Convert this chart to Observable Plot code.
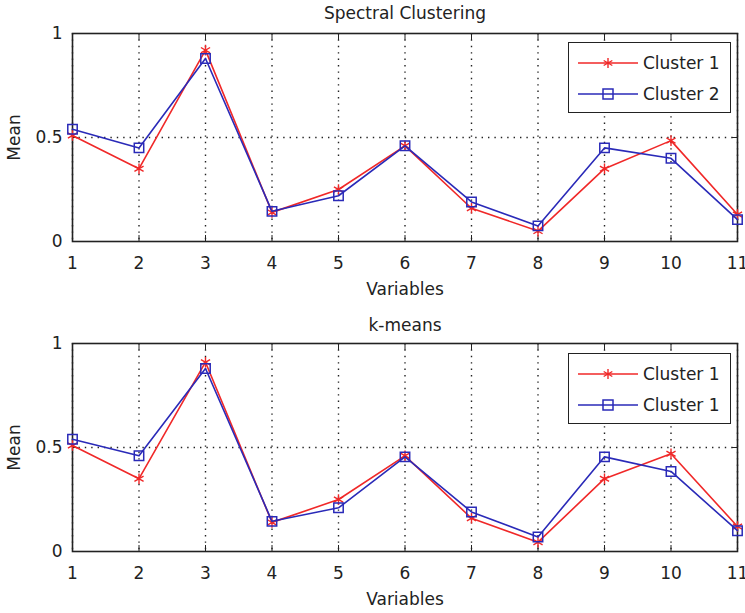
<!DOCTYPE html>
<html>
<head>
<meta charset="utf-8">
<script src="https://cdn.jsdelivr.net/npm/d3@7"></script>
<script src="https://cdn.jsdelivr.net/npm/@observablehq/plot@0.6"></script>
<style>
  html, body { margin: 0; padding: 0; background: #fff; }
  body { width: 745px; height: 613px; overflow: hidden; font-family: "DejaVu Sans", sans-serif; }
  .panel { position: relative; }
  .legend { position: absolute; background: #fff; border: 1.5px solid #222; box-sizing: border-box; }
  .legend svg { display: block; }
</style>
</head>
<body>
<div id="chart"></div>
<script>
// ---- Data ----
const variables = [1, 2, 3, 4, 5, 6, 7, 8, 9, 10, 11];
const xTicks = [1, 2, 3, 4, 5, 6, 7, 8, 9, 10, 11];
const yTicks = [0, 0.5, 1];
const yTickLabels = ["0", "0.5", "1"];

const spectralTitle = "Spectral Clustering";
const spectralNames = ["Cluster 1", "Cluster 2"];
const spectralC1 = [0.51, 0.35, 0.92, 0.14, 0.25, 0.46, 0.16, 0.05, 0.35, 0.485, 0.13];
const spectralC2 = [0.54, 0.45, 0.88, 0.145, 0.22, 0.46, 0.19, 0.075, 0.45, 0.40, 0.105];

const kmeansTitle = "k-means";
const kmeansNames = ["Cluster 1", "Cluster 1"];
const kmeansC1 = [0.51, 0.35, 0.91, 0.14, 0.25, 0.46, 0.16, 0.045, 0.35, 0.47, 0.12];
const kmeansC2 = [0.54, 0.46, 0.88, 0.145, 0.21, 0.455, 0.19, 0.07, 0.455, 0.385, 0.10];

const xLabel = "Variables";
const yLabel = "Mean";

const RED = "#f02828";
const BLUE = "#2a2ab8";
const FONT = "DejaVu Sans, sans-serif";

function makePanel(title, c1, c2, names, cfg) {
  const d1 = variables.map((v, i) => ({v, y: c1[i]}));
  const d2 = variables.map((v, i) => ({v, y: c2[i]}));
  const plot = Plot.plot({
    width: 745,
    height: cfg.height,
    marginLeft: 72,
    marginRight: 8,
    marginTop: cfg.marginTop,
    marginBottom: cfg.marginBottom,
    style: {fontFamily: FONT, fontSize: "17px", color: "#222", background: "#fff"},
    x: {domain: [1, 11]},
    y: {domain: [0, 1]},
    marks: [
      Plot.gridX(xTicks, {stroke: "#222", strokeOpacity: 1, strokeWidth: 1.4, strokeDasharray: "1.4,5"}),
      Plot.gridY([0.5], {stroke: "#222", strokeOpacity: 1, strokeWidth: 1.4, strokeDasharray: "1.4,5"}),
      Plot.axisX({ticks: xTicks, anchor: "bottom", tickSize: -6, text: null, label: null, stroke: "#222"}),
      Plot.axisX({ticks: xTicks, anchor: "top", tickSize: -6, text: null, label: null, stroke: "#222"}),
      Plot.axisY({ticks: yTicks, anchor: "left", tickSize: -6, text: null, label: null, stroke: "#222"}),
      Plot.axisY({ticks: yTicks, anchor: "right", tickSize: -6, text: null, label: null, stroke: "#222"}),
      Plot.axisX({ticks: xTicks, anchor: "bottom", tickSize: 0, tickPadding: 15, tickFormat: d => String(d),
        label: xLabel, labelAnchor: "center", labelArrow: "none", labelOffset: 53, fontSize: 17}),
      Plot.axisY({ticks: yTicks, anchor: "left", tickSize: 0, tickPadding: 10, tickFormat: (d, i) => yTickLabels[i],
        label: yLabel, labelAnchor: "center", labelArrow: "none", labelOffset: 65, fontSize: 17}),
      Plot.frame({stroke: "#222", strokeWidth: 1.6}),
      Plot.line(d1, {x: "v", y: "y", stroke: RED, strokeWidth: 1.6}),
      Plot.dot(d1, {x: "v", y: "y", symbol: "asterisk", stroke: RED, strokeWidth: 1.4, r: 5}),
      Plot.line(d2, {x: "v", y: "y", stroke: BLUE, strokeWidth: 1.6}),
      Plot.dot(d2, {x: "v", y: "y", symbol: "square2", stroke: BLUE, fill: "none", strokeWidth: 1.5, r: 6}),
      Plot.text([title], {frameAnchor: "top", dy: cfg.titleDy, text: d => d, fontSize: 17, fill: "#222", lineAnchor: "bottom"})
    ]
  });

  const panel = document.createElement("div");
  panel.className = "panel";
  panel.appendChild(plot);

  // legend box
  const lg = document.createElement("div");
  lg.className = "legend";
  lg.style.left = "568px";
  lg.style.top = cfg.legendTop + "px";
  lg.style.width = "163px";
  lg.style.height = "71px";
  const svg = d3.create("svg").attr("width", 160).attr("height", 68)
    .style("font-family", FONT).style("font-size", "17px");
  const rows = [{c: RED, n: names[0], sym: "asterisk"}, {c: BLUE, n: names[1], sym: "square"}];
  rows.forEach((r, i) => {
    const cy = 20 + i * 31;
    svg.append("line").attr("x1", 9).attr("x2", 69).attr("y1", cy).attr("y2", cy)
      .attr("stroke", r.c).attr("stroke-width", 1.6);
    if (r.sym === "asterisk") {
      svg.append("path").attr("d", d3.symbol(d3.symbolAsterisk, 70)())
        .attr("transform", `translate(39,${cy})`).attr("stroke", r.c).attr("stroke-width", 1.4).attr("fill", "none");
    } else {
      svg.append("rect").attr("x", 34).attr("y", cy - 5).attr("width", 10).attr("height", 10)
        .attr("stroke", r.c).attr("stroke-width", 1.5).attr("fill", "none");
    }
    svg.append("text").attr("x", 74).attr("y", cy).attr("dy", "0.35em").attr("fill", "#222").text(r.n);
  });
  lg.appendChild(svg.node());
  panel.appendChild(lg);
  return panel;
}

const root = document.getElementById("chart");
root.appendChild(makePanel(spectralTitle, spectralC1, spectralC2, spectralNames,
  {height: 300, marginTop: 33, marginBottom: 59, titleDy: -15, legendTop: 42}));
root.appendChild(makePanel(kmeansTitle, kmeansC1, kmeansC2, kmeansNames,
  {height: 313, marginTop: 43, marginBottom: 62, titleDy: -13, legendTop: 53}));
</script>
</body>
</html>
